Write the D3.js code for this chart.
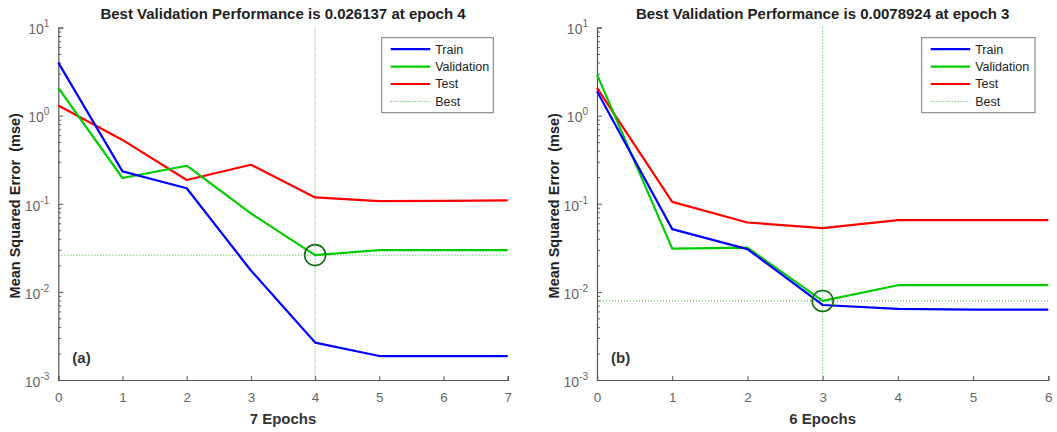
<!DOCTYPE html>
<html>
<head>
<meta charset="utf-8">
<script src="https://cdn.jsdelivr.net/npm/d3@7"></script>
<style>
  html, body { margin: 0; padding: 0; background: #fff; }
  svg { display: block; font-family: "Liberation Sans", Arial, Helvetica, sans-serif; }
</style>
</head>
<body>
<svg id="chart" width="1057" height="432"></svg>
<script>
// Training performance (mean squared error per epoch) for two networks
const epochsA = [0, 1, 2, 3, 4, 5, 6, 7];
const trainA  = [4.0, 0.233, 0.15, 0.0175, 0.00266, 0.00187, 0.00187, 0.00187];
const validA  = [2.06, 0.196, 0.27, 0.0776, 0.026137, 0.0298, 0.0298, 0.0298];
const testA   = [1.30, 0.53, 0.186, 0.277, 0.118, 0.107, 0.108, 0.109];
const bestEpochA = 4, bestValueA = 0.026137;

const epochsB = [0, 1, 2, 3, 4, 5, 6];
const trainB  = [1.89, 0.0515, 0.0306, 0.0071, 0.0064, 0.0063, 0.0063];
const validB  = [2.92, 0.031, 0.0317, 0.0078924, 0.0119, 0.0119, 0.0119];
const testB   = [2.06, 0.105, 0.0613, 0.053, 0.0652, 0.0652, 0.0652];
const bestEpochB = 3, bestValueB = 0.0078924;

const yDecades = [1e-3, 1e-2, 1e-1, 1e0, 1e1];
const yExponents = ["-3", "-2", "-1", "0", "1"];
const legendNames = ["Train", "Validation", "Test", "Best"];

const panels = [
  { epochs: epochsA, train: trainA, valid: validA, test: testA,
    bestEpoch: bestEpochA, bestValue: bestValueA, tag: "(a)",
    title: "Best Validation Performance is 0.026137 at epoch 4",
    xLabel: "7 Epochs", x0: 58.3, x1: 507.7, legX: 381.7, legW: 111.6 },
  { epochs: epochsB, train: trainB, valid: validB, test: testB,
    bestEpoch: bestEpochB, bestValue: bestValueB, tag: "(b)",
    title: "Best Validation Performance is 0.0078924 at epoch 3",
    xLabel: "6 Epochs", x0: 597, x1: 1048.3, legX: 921.7, legW: 113.3 }
];

const COLORS = { train: "#0000ff", valid: "#00cc00", test: "#ff0000",
                 best: "#33aa33", circle: "#0f6f0f" };
const yTop = 27.5, yBottom = 380;
const svg = d3.select("#chart");

panels.forEach(p => {
  const g = svg.append("g");
  const x = d3.scaleLinear().domain([0, d3.max(p.epochs)]).range([p.x0, p.x1]);
  const y = d3.scaleLog().domain([1e-3, 1e1]).range([yBottom, yTop]);

  // best markers (dotted guides)
  g.append("line")
    .attr("x1", x(p.bestEpoch)).attr("x2", x(p.bestEpoch))
    .attr("y1", y(1e1)).attr("y2", y(1e-3))
    .attr("stroke", COLORS.best).attr("stroke-width", 1)
    .attr("stroke-dasharray", "1,2");
  g.append("line")
    .attr("x1", x(0)).attr("x2", x(d3.max(p.epochs)))
    .attr("y1", y(p.bestValue)).attr("y2", y(p.bestValue))
    .attr("stroke", COLORS.best).attr("stroke-width", 1)
    .attr("stroke-dasharray", "1,2");

  // minor y ticks
  const minor = [];
  for (let d = -3; d < 1; d++) for (let k = 2; k <= 9; k++) minor.push(k * Math.pow(10, d));
  const gMinor = g.append("g").attr("transform", `translate(${p.x0},0)`)
    .call(d3.axisLeft(y).tickValues(minor).tickSize(-3).tickFormat(""));
  gMinor.select(".domain").remove();
  gMinor.selectAll("line").attr("stroke", "#666");

  // major y axis
  const gy = g.append("g").attr("transform", `translate(${p.x0},0)`)
    .call(d3.axisLeft(y).tickValues(yDecades).tickSize(-5).tickPadding(9).tickFormat(""));
  gy.select(".domain").attr("stroke", "#555").attr("stroke-width", 1.2);
  gy.selectAll("line").attr("stroke", "#555");
  gy.selectAll(".tick text").each(function(d, i) {
    const t = d3.select(this)
      .attr("fill", "#666").attr("font-size", 14).attr("x", -9).attr("dy", "0.45em");
    t.append("tspan").text("10");
    t.append("tspan").attr("font-size", 10).attr("dy", "-0.7em").text(yExponents[i]);
  });

  // x axis
  const gx = g.append("g").attr("transform", `translate(0,${yBottom})`)
    .call(d3.axisBottom(x).tickValues(p.epochs).tickSize(-4).tickPadding(12).tickFormat(d3.format("d")));
  gx.select(".domain").attr("stroke", "#555").attr("stroke-width", 1.2);
  gx.selectAll("line").attr("stroke", "#555");
  gx.selectAll("text").attr("fill", "#666").attr("font-size", 13.5);

  // series lines
  const line = d3.line().x((d, i) => x(p.epochs[i])).y(d => y(d));
  [["test", p.test], ["valid", p.valid], ["train", p.train]].forEach(([k, vals]) => {
    g.append("path").datum(vals).attr("d", line)
      .attr("fill", "none").attr("stroke", COLORS[k]).attr("stroke-width", 2.2)
      .attr("stroke-linejoin", "round");
  });

  // best validation circle
  g.append("circle")
    .attr("cx", x(p.bestEpoch)).attr("cy", y(p.bestValue)).attr("r", 10.5)
    .attr("fill", "none").attr("stroke", COLORS.circle).attr("stroke-width", 1.6);

  // title and axis labels
  g.append("text").attr("x", (p.x0 + p.x1) / 2).attr("y", 18.5)
    .attr("text-anchor", "middle").attr("font-weight", "bold").attr("font-size", 15)
    .attr("fill", "#222").text(p.title);
  g.append("text").attr("x", (p.x0 + p.x1) / 2).attr("y", 424)
    .attr("text-anchor", "middle").attr("font-weight", "bold").attr("font-size", 15)
    .attr("fill", "#333").text(p.xLabel);
  g.append("text")
    .attr("transform", `translate(${p.x0 - 38},${(yTop + yBottom) / 2 + 2}) rotate(-90)`)
    .attr("text-anchor", "middle").attr("font-weight", "bold").attr("font-size", 14.5)
    .attr("fill", "#222").attr("xml:space", "preserve").text("Mean Squared Error  (mse)");
  g.append("text").attr("x", p.x0 + 14).attr("y", 363)
    .attr("font-weight", "bold").attr("font-size", 15).attr("fill", "#333").text(p.tag);

  // legend
  const leg = g.append("g").attr("transform", `translate(${p.legX},37.7)`);
  leg.append("rect").attr("width", p.legW).attr("height", 75)
    .attr("fill", "#fff").attr("stroke", "#777").attr("stroke-width", 1);
  const legKeys = ["train", "valid", "test", "best"];
  legendNames.forEach((name, i) => {
    const yy = 11.5 + i * 17.4;
    leg.append("line").attr("x1", 9).attr("x2", 48.5).attr("y1", yy).attr("y2", yy)
      .attr("stroke", COLORS[legKeys[i]])
      .attr("stroke-width", legKeys[i] === "best" ? 1 : 2.2)
      .attr("stroke-dasharray", legKeys[i] === "best" ? "1,2" : null);
    leg.append("text").attr("x", 53.5).attr("y", yy).attr("dy", "0.36em")
      .attr("font-size", 12.5).attr("fill", "#222").text(name);
  });
});
</script>
</body>
</html>
